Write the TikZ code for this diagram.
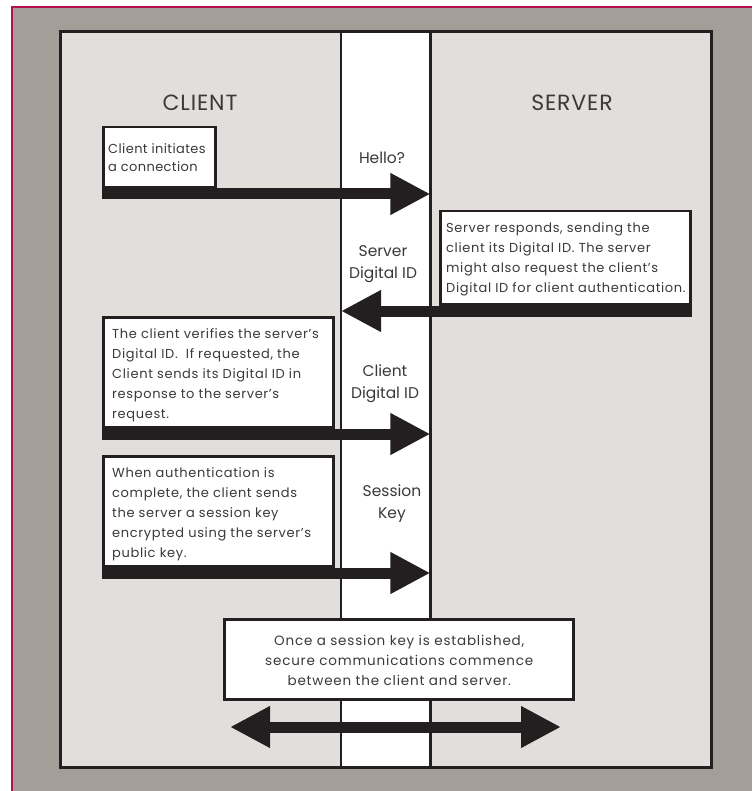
\documentclass[tikz,border=0pt]{standalone}
\usepackage{fontspec}
\setmainfont{Poppins}
\usetikzlibrary{arrows.meta}
\definecolor{outergray}{HTML}{A39E98}
\definecolor{panelgray}{HTML}{E2DEDB}
\definecolor{crim}{HTML}{B3124E}
\definecolor{ink}{HTML}{231F20}
\definecolor{txt}{HTML}{3A3A3A}
\begin{document}
\begin{tikzpicture}[x=1pt,y=-1pt,
  infobox/.style={draw=ink,line width=2.5pt,fill=white,anchor=north west,inner sep=0pt},
  boxtext/.style={anchor=west,inner sep=0pt,align=left,text=txt,font=\fontsize{13}{20}\selectfont\addfontfeature{LetterSpace=5}},
  msgtext/.style={align=center,inner sep=0pt,text=txt,font=\fontsize{15.5}{22}\selectfont},
  headtext/.style={inner sep=0pt,text=txt,font=\fontsize{22}{24}\selectfont\addfontfeature{LetterSpace=4}},
  flow/.style={draw=ink,line width=11pt,-{Triangle[length=40pt,width=39pt]}},
  dflow/.style={draw=ink,line width=11pt,{Triangle[length=40pt,width=39pt]}-{Triangle[length=40pt,width=39pt]}}
]
\useasboundingbox (0,0) rectangle (752,791);
\fill[white] (0,0) rectangle (752,791);
\fill[outergray] (11,7) rectangle (752,791);
\draw[crim,line width=2pt] (11.5,791) -- (11.5,7.5) -- (752,7.5);

% panel and middle column
\node[fill=panelgray,minimum width=651pt,minimum height=735pt,anchor=north west,inner sep=0pt] (panel) at (60,32) {};
\node[fill=white,minimum width=89pt,minimum height=735pt,anchor=north west,inner sep=0pt] (col) at (341,32) {};
\draw[ink,line width=2.5pt] (col.north west) -- (col.south west);
\draw[ink,line width=2.5pt] (col.north east) -- (col.south east);
\draw[ink,line width=3pt] (panel.north west) rectangle (panel.south east);

% headings
\node[headtext] (client) at (200,103) {CLIENT};
\node[headtext] (server) at (572,103) {SERVER};

% step 1
\node[infobox,minimum width=112pt,minimum height=60pt] (b1) at (102,126) {};
\node[boxtext,xshift=6pt,font=\fontsize{13}{18}\selectfont\addfontfeature{LetterSpace=3}] (t1) at (b1.west) {Client initiates\\a connection};
\node[msgtext] (m1) at (382,158) {Hello?};
\coordinate (a1) at ([yshift=-5.5pt]b1.south west);
\draw[flow] (a1) -- (a1 -| col.east);

% step 2
\node[infobox,minimum width=250pt,minimum height=93pt] (b2) at (439,210) {};
\node[boxtext,xshift=7pt,yshift=-2pt] (t2) at (b2.west) {Server responds, sending the\\client its Digital ID. The server\\might also request the client’s\\Digital ID for client authentication.};
\node[msgtext] (m2) at (383,264) {Server\\Digital ID};
\coordinate (a2) at ([yshift=-5.5pt]b2.south east);
\draw[flow] (a2) -- (a2 -| col.west);

% step 3
\node[infobox,minimum width=230pt,minimum height=110pt] (b3) at (102,316) {};
\node[boxtext,xshift=10pt,yshift=-3pt] (t3) at (b3.west) {The client verifies the server’s\\Digital ID.\ \ If requested, the\\Client sends its Digital ID in\\response to the server’s\\request.};
\node[msgtext] (m3) at (385,384) {Client\\Digital ID};
\coordinate (a3) at ([yshift=-5.5pt]b3.south west);
\draw[flow] (a3) -- (a3 -| col.east);

% step 4
\node[infobox,minimum width=230pt,minimum height=110pt] (b4) at (102,455) {};
\node[boxtext,xshift=10pt,yshift=-3pt] (t4) at (b4.west) {When authentication is\\complete, the client sends\\the server a session key\\encrypted using the server’s\\public key.};
\node[msgtext] (m4) at (392,504) {Session\\Key};
\coordinate (a4) at ([yshift=-5.5pt]b4.south west);
\draw[flow] (a4) -- (a4 -| col.east);

% step 5
\node[infobox,minimum width=349pt,minimum height=80pt] (b5) at (223,618) {};
\node[boxtext,anchor=center,align=center,font=\fontsize{13.5}{20}\selectfont\addfontfeature{LetterSpace=6}] (t5) at ([xshift=0.5pt,yshift=-1pt]b5.center) {Once a session key is established,\\secure communications commence\\between the client and server.};
\coordinate (dl) at (230,727);
\coordinate (dr) at (561,727);
\draw[dflow] (dl) -- (dr);
\end{tikzpicture}
\end{document}
